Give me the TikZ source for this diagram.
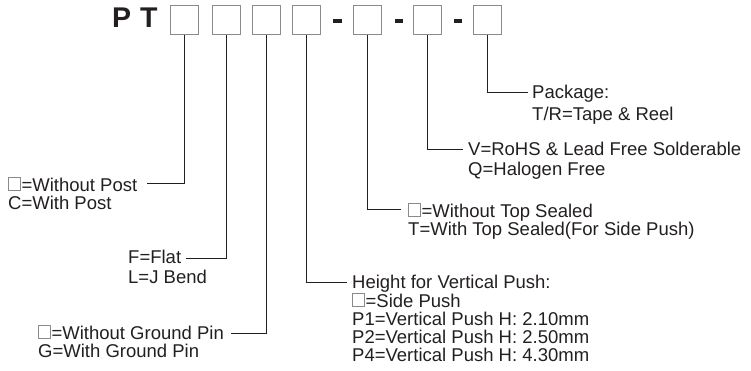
\documentclass[tikz,border=0pt]{standalone}
\usepackage{fontspec}
\setmainfont{Liberation Sans}
\definecolor{ink}{HTML}{231F20}
\definecolor{boxgray}{HTML}{8A8A8A}
\newcommand\sqbox{\raisebox{0.7pt}{\color{boxgray}\setlength\fboxsep{0pt}\setlength\fboxrule{0.7pt}\framebox{\rule{0pt}{12.6pt}\hspace{11pt}}}\hspace{1pt}}
\tikzset{
  codebox/.style={draw=boxgray, line width=1.3pt, minimum width=28pt, minimum height=29pt, inner sep=0pt, anchor=north west},
  dashbox/.style={fill=ink, draw=none},
  lbl/.style={anchor=base west, inner sep=0pt, text=ink, font=\fontsize{18.5}{18}\selectfont},
  big/.style={anchor=base west, inner sep=0pt, text=ink, font=\fontsize{28.5}{28}\selectfont\bfseries},
  conn/.style={draw=ink, line width=0.9pt}
}
\begin{document}
\begin{tikzpicture}[x=1pt,y=-1pt]
\useasboundingbox (0,0) rectangle (751,370);
% title
\node[big] (P) at (112,27) {P};
\node[big] (T) at (140,27) {T};
% code boxes
\node[codebox] (b1) at (170,5) {};
\node[codebox] (b2) at (212,5) {};
\node[codebox] (b3) at (252,5) {};
\node[codebox] (b4) at (292,5) {};
\node[codebox] (b5) at (353,5) {};
\node[codebox] (b6) at (413,5) {};
\node[codebox] (b7) at (473,5) {};
% dashes
\fill[dashbox] (333,19) rectangle (342,23);
\fill[dashbox] (395,19) rectangle (403,23);
\fill[dashbox] (454,19) rectangle (462,23);
% labels
\node[lbl] (post1) at (8,191) {\sqbox=Without Post};
\node[lbl] (post2) at (8,209) {C=With Post};
\node[lbl] (flat1) at (128,263) {F=Flat};
\node[lbl] (flat2) at (128,283) {L=J Bend};
\node[lbl] (gnd1) at (38,339) {\sqbox=Without Ground Pin};
\node[lbl] (gnd2) at (38,357) {G=With Ground Pin};
\node[lbl] (h1) at (352,288) {Height for Vertical Push:};
\node[lbl] (h2) at (352,307) {\sqbox=Side Push};
\node[lbl] (h3) at (352,325) {P1=Vertical Push H: 2.10mm};
\node[lbl] (h4) at (352,343) {P2=Vertical Push H: 2.50mm};
\node[lbl] (h5) at (352,361) {P4=Vertical Push H: 4.30mm};
\node[lbl] (top1) at (408,217) {\sqbox=Without Top Sealed};
\node[lbl] (top2) at (408,235) {T=With Top Sealed(For Side Push)};
\node[lbl] (v1) at (468,155) {V=RoHS \& Lead Free Solderable};
\node[lbl] (v2) at (468,175) {Q=Halogen Free};
\node[lbl] (pk1) at (532,98) {Package:};
\node[lbl] (pk2) at (532,120) {T/R=Tape \& Reel};
% connector ends
\coordinate (c1) at (147,183);
\coordinate (c2) at (186,258);
\coordinate (c3) at (231,333);
\coordinate (c4) at (347,282);
\coordinate (c5) at (401,209);
\coordinate (c6) at (463,149);
\coordinate (c7) at (528,92);
\draw[conn] (b1.south) |- (c1);
\draw[conn] (b2.south) |- (c2);
\draw[conn] (b3.south) |- (c3);
\draw[conn] (b4.south) |- (c4);
\draw[conn] (b5.south) |- (c5);
\draw[conn] (b6.south) |- (c6);
\draw[conn] (b7.south) |- (c7);
\end{tikzpicture}
\end{document}
